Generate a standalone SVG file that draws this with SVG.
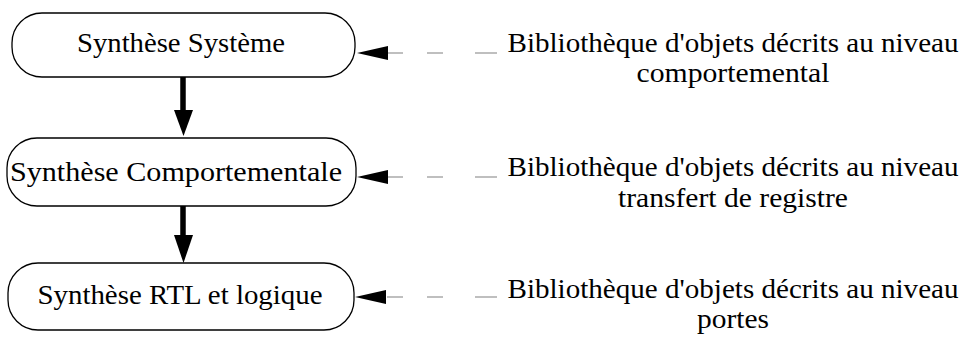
<svg xmlns="http://www.w3.org/2000/svg" width="964" height="338" viewBox="0 0 964 338">
<style>
.box{fill:#fff;stroke:#000;stroke-width:1.3}
.dash{stroke:#808080;stroke-width:1.2;fill:none}
.shaft{stroke:#000;stroke-width:5.5;fill:none}
</style>
<g font-family="Liberation Serif, Times New Roman, serif" font-size="27" fill="#000" text-anchor="middle">
<g id="node1"><rect class="box" x="12" y="13" width="343" height="64" rx="30"/><text x="181" y="52" textLength="208" lengthAdjust="spacingAndGlyphs">Synthèse Système</text></g>
<g id="node2"><rect class="box" x="7" y="138" width="349" height="68" rx="30"/><text x="176" y="181" textLength="332" lengthAdjust="spacingAndGlyphs">Synthèse Comportementale</text></g>
<g id="node3"><rect class="box" x="8" y="263" width="346" height="67" rx="30"/><text x="180" y="304" textLength="285" lengthAdjust="spacingAndGlyphs">Synthèse RTL et logique</text></g>
<g id="lib1"><text x="733" y="52" textLength="451" lengthAdjust="spacingAndGlyphs">Bibliothèque d'objets décrits au niveau</text><text x="733" y="82" textLength="193" lengthAdjust="spacingAndGlyphs">comportemental</text></g>
<g id="lib2"><text x="733" y="176" textLength="451" lengthAdjust="spacingAndGlyphs">Bibliothèque d'objets décrits au niveau</text><text x="733" y="207" textLength="230" lengthAdjust="spacingAndGlyphs">transfert de registre</text></g>
<g id="lib3"><text x="733" y="298" textLength="451" lengthAdjust="spacingAndGlyphs">Bibliothèque d'objets décrits au niveau</text><text x="733" y="328" textLength="72" lengthAdjust="spacingAndGlyphs">portes</text></g>
</g>
<g id="connectors">
<line class="shaft" x1="183" y1="77" x2="183" y2="112"/>
<polygon points="174,110 193,110 183.5,136"/>
<line class="shaft" x1="183" y1="206" x2="183" y2="237"/>
<polygon points="174,235 193,235 183.5,263"/>
<path class="dash" d="M387 53 H403 M427 53 H443 M475 53 H497"/>
<polygon points="357,53 388,46 388,60"/>
<path class="dash" d="M387 177 H403 M427 177 H443 M475 177 H497"/>
<polygon points="357,177 388,170 388,184"/>
<path class="dash" d="M387 297 H403 M427 297 H443 M475 297 H497"/>
<polygon points="355,297 386,290 386,304"/>
</g>
</svg>
